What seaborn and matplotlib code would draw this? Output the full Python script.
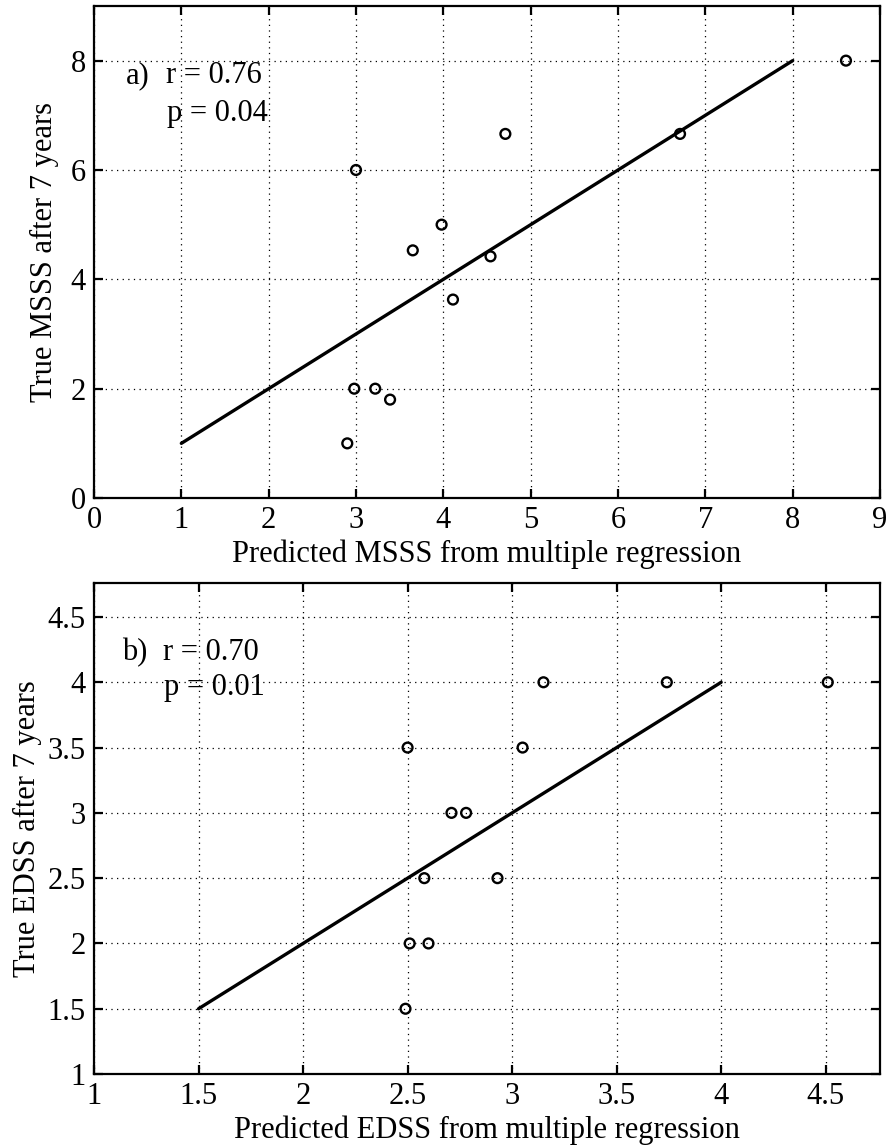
import matplotlib
matplotlib.use("Agg")
import matplotlib.pyplot as plt
import seaborn as sns
import pandas as pd

# ---- data ----
msss_pred = [3.00, 4.71, 3.98, 3.65, 4.54, 4.11, 2.98, 3.22, 3.39, 2.90, 8.61, 6.71]
msss_true = [6.00, 6.66, 5.00, 4.53, 4.42, 3.63, 2.00, 2.00, 1.80, 1.00, 8.00, 6.66]
msss_line_x = [1, 8]
msss_line_y = [1, 8]

edss_pred = [3.15, 3.74, 4.51, 2.50, 3.05, 2.71, 2.78, 2.58, 2.93, 2.51, 2.60, 2.49]
edss_true = [4.0, 4.0, 4.0, 3.5, 3.5, 3.0, 3.0, 2.5, 2.5, 2.0, 2.0, 1.5]
edss_line_x = [1.5, 4.0]
edss_line_y = [1.5, 4.0]

msss_xticks = [0, 1, 2, 3, 4, 5, 6, 7, 8, 9]
msss_yticks = [0, 2, 4, 6, 8]
edss_xticks = [1, 1.5, 2, 2.5, 3, 3.5, 4, 4.5]
edss_yticks = [1, 1.5, 2, 2.5, 3, 3.5, 4, 4.5]
edss_xticklabels = ["1", "1.5", "2", "2.5", "3", "3.5", "4", "4.5"]
edss_yticklabels = ["1", "1.5", "2", "2.5", "3", "3.5", "4", "4.5"]

sns.set_style("ticks")
plt.rcParams['font.family'] = ['Liberation Serif', 'DejaVu Serif']
plt.rcParams['text.color'] = 'black'
plt.rcParams['axes.labelcolor'] = 'black'
plt.rcParams['xtick.color'] = 'black'
plt.rcParams['ytick.color'] = 'black'

fig = plt.figure(figsize=(8.91, 11.47), dpi=100)
ax1 = fig.add_axes([0.1055, 0.5658, 0.8822, 0.4290])
ax2 = fig.add_axes([0.1055, 0.0636, 0.8822, 0.4281])

FS = 22

def style(ax):
    for s in ax.spines.values():
        s.set_linewidth(1.6)
        s.set_color("black")
        s.set_visible(True)
    ax.tick_params(direction="in", length=6.5, width=1.6, top=True, right=True,
                   labelsize=FS, colors="black", pad=6)
    ax.grid(True, linestyle=(0, (1, 3.5)), color="black", linewidth=0.9)
    ax.set_axisbelow(True)

# ---- top panel ----
df1 = pd.DataFrame({"x": msss_pred, "y": msss_true})
dl1 = pd.DataFrame({"x": msss_line_x, "y": msss_line_y})
sns.lineplot(data=dl1, x="x", y="y", ax=ax1, color="black", linewidth=2.4)
sns.scatterplot(data=df1, x="x", y="y", ax=ax1, marker="o", s=50,
                facecolor="none", edgecolor="black", linewidth=1.7, zorder=5)
ax1.set_xlim(0, 9)
ax1.set_ylim(0, 9)
ax1.set_xticks(msss_xticks)
ax1.set_yticks(msss_yticks)
style(ax1)
ax1.set_xlabel("Predicted MSSS from multiple regression", fontsize=FS, labelpad=3)
ax1.set_ylabel("True MSSS after 7 years", fontsize=FS, labelpad=8)
ax1.text(0.37, 7.73, "a)", fontsize=FS, va="center", ha="left", color="black")
ax1.text(0.82, 7.73, "r = 0.76", fontsize=FS, va="center", ha="left", color="black")
ax1.text(0.84, 7.03, "p = 0.04", fontsize=FS, va="center", ha="left", color="black")

# ---- bottom panel ----
df2 = pd.DataFrame({"x": edss_pred, "y": edss_true})
dl2 = pd.DataFrame({"x": edss_line_x, "y": edss_line_y})
sns.lineplot(data=dl2, x="x", y="y", ax=ax2, color="black", linewidth=2.4)
sns.scatterplot(data=df2, x="x", y="y", ax=ax2, marker="o", s=50,
                facecolor="none", edgecolor="black", linewidth=1.7, zorder=5)
ax2.set_xlim(1, 4.76)
ax2.set_ylim(1, 4.76)
ax2.set_xticks(edss_xticks)
ax2.set_xticklabels(edss_xticklabels)
ax2.set_yticks(edss_yticks)
ax2.set_yticklabels(edss_yticklabels)
style(ax2)
ax2.set_xlabel("Predicted EDSS from multiple regression", fontsize=FS, labelpad=3)
ax2.set_ylabel("True EDSS after 7 years", fontsize=FS, labelpad=4)
ax2.text(1.134, 4.23, "b)", fontsize=FS, va="center", ha="left", color="black")
ax2.text(1.33, 4.23, "r = 0.70", fontsize=FS, va="center", ha="left", color="black")
ax2.text(1.335, 3.96, "p = 0.01", fontsize=FS, va="center", ha="left", color="black")

fig.savefig("out.png", dpi=100)
